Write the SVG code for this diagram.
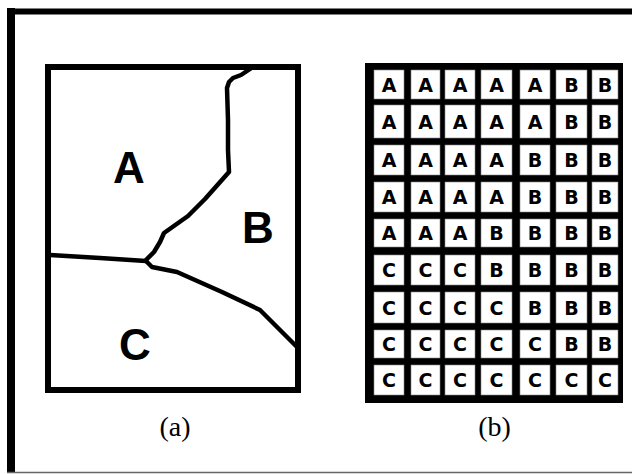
<svg xmlns="http://www.w3.org/2000/svg" width="632" height="474" viewBox="0 0 632 474">
<style>
.big{font-family:"Liberation Sans",Arial,sans-serif;font-weight:bold;font-size:44px;fill:#000;text-anchor:middle}
.cap{font-family:"Liberation Serif","Times New Roman",serif;font-size:28px;fill:#000;text-anchor:middle}
.cell{fill:#fff;stroke:#888;stroke-width:0.6}
.g{font-family:"DejaVu Sans",sans-serif;font-weight:bold;font-size:19px;fill:#000;text-anchor:middle}
.bd{fill:none;stroke:#000;stroke-width:4.5;stroke-linejoin:round;stroke-linecap:round}
</style>
<rect width="632" height="474" fill="#fff"/>
<g id="frame">
<rect x="7" y="8" width="8" height="465" fill="#000"/>
<rect x="7" y="8.5" width="625" height="6" fill="#000"/>
<line x1="7" y1="472.5" x2="632" y2="472.5" stroke="#666" stroke-width="1.5"/>
</g>
<g id="panel-a">
<rect x="48" y="67" width="250" height="323" fill="#fff" stroke="#000" stroke-width="6"/>
<g id="boundaries">
<path class="bd" d="M250,69 L241,75 L233,78 L229,82 L227,88 L228,120 L228,150 L229,172 L205,199 L188,216 L164,233 L160,242 L154,252 L146,260"/>
<path class="bd" d="M50,255 L100,258 L146,261"/>
<path class="bd" d="M146,261 L152,267 L177,272 L222,292 L260,310 L268,318 L297,347"/>
</g>
<text class="big" x="129" y="183">A</text>
<text class="big" x="258" y="243">B</text>
<text class="big" x="135" y="360">C</text>
<text class="cap" x="175" y="436">(a)</text>
</g>
<g id="panel-b">
<rect x="365" y="63" width="258" height="340" fill="#000"/>
<g id="cells">
<rect class="cell" x="374" y="70" width="30" height="29"/><rect class="cell" x="411" y="70" width="29" height="29"/><rect class="cell" x="445" y="70" width="30" height="29"/><rect class="cell" x="481" y="70" width="31" height="29"/><rect class="cell" x="520" y="70" width="30" height="29"/><rect class="cell" x="556" y="70" width="31" height="29"/><rect class="cell" x="592" y="70" width="26" height="29"/>
<rect class="cell" x="374" y="105" width="30" height="33"/><rect class="cell" x="411" y="105" width="29" height="33"/><rect class="cell" x="445" y="105" width="30" height="33"/><rect class="cell" x="481" y="105" width="31" height="33"/><rect class="cell" x="520" y="105" width="30" height="33"/><rect class="cell" x="556" y="105" width="31" height="33"/><rect class="cell" x="592" y="105" width="26" height="33"/>
<rect class="cell" x="374" y="145" width="30" height="30"/><rect class="cell" x="411" y="145" width="29" height="30"/><rect class="cell" x="445" y="145" width="30" height="30"/><rect class="cell" x="481" y="145" width="31" height="30"/><rect class="cell" x="520" y="145" width="30" height="30"/><rect class="cell" x="556" y="145" width="31" height="30"/><rect class="cell" x="592" y="145" width="26" height="30"/>
<rect class="cell" x="374" y="182" width="30" height="30"/><rect class="cell" x="411" y="182" width="29" height="30"/><rect class="cell" x="445" y="182" width="30" height="30"/><rect class="cell" x="481" y="182" width="31" height="30"/><rect class="cell" x="520" y="182" width="30" height="30"/><rect class="cell" x="556" y="182" width="31" height="30"/><rect class="cell" x="592" y="182" width="26" height="30"/>
<rect class="cell" x="374" y="219" width="30" height="28"/><rect class="cell" x="411" y="219" width="29" height="28"/><rect class="cell" x="445" y="219" width="30" height="28"/><rect class="cell" x="481" y="219" width="31" height="28"/><rect class="cell" x="520" y="219" width="30" height="28"/><rect class="cell" x="556" y="219" width="31" height="28"/><rect class="cell" x="592" y="219" width="26" height="28"/>
<rect class="cell" x="374" y="255" width="30" height="30"/><rect class="cell" x="411" y="255" width="29" height="30"/><rect class="cell" x="445" y="255" width="30" height="30"/><rect class="cell" x="481" y="255" width="31" height="30"/><rect class="cell" x="520" y="255" width="30" height="30"/><rect class="cell" x="556" y="255" width="31" height="30"/><rect class="cell" x="592" y="255" width="26" height="30"/>
<rect class="cell" x="374" y="292" width="30" height="31"/><rect class="cell" x="411" y="292" width="29" height="31"/><rect class="cell" x="445" y="292" width="30" height="31"/><rect class="cell" x="481" y="292" width="31" height="31"/><rect class="cell" x="520" y="292" width="30" height="31"/><rect class="cell" x="556" y="292" width="31" height="31"/><rect class="cell" x="592" y="292" width="26" height="31"/>
<rect class="cell" x="374" y="330" width="30" height="28"/><rect class="cell" x="411" y="330" width="29" height="28"/><rect class="cell" x="445" y="330" width="30" height="28"/><rect class="cell" x="481" y="330" width="31" height="28"/><rect class="cell" x="520" y="330" width="30" height="28"/><rect class="cell" x="556" y="330" width="31" height="28"/><rect class="cell" x="592" y="330" width="26" height="28"/>
<rect class="cell" x="374" y="365" width="30" height="30"/><rect class="cell" x="411" y="365" width="29" height="30"/><rect class="cell" x="445" y="365" width="30" height="30"/><rect class="cell" x="481" y="365" width="31" height="30"/><rect class="cell" x="520" y="365" width="30" height="30"/><rect class="cell" x="556" y="365" width="31" height="30"/><rect class="cell" x="592" y="365" width="26" height="30"/>
</g>
<g id="cell-labels">
<text class="g" x="389" y="91.5">A</text><text class="g" x="425.5" y="91.5">A</text><text class="g" x="460" y="91.5">A</text><text class="g" x="496.5" y="91.5">A</text><text class="g" x="535" y="91.5">A</text><text class="g" x="571.5" y="91.5">B</text><text class="g" x="605" y="91.5">B</text>
<text class="g" x="389" y="128.5">A</text><text class="g" x="425.5" y="128.5">A</text><text class="g" x="460" y="128.5">A</text><text class="g" x="496.5" y="128.5">A</text><text class="g" x="535" y="128.5">A</text><text class="g" x="571.5" y="128.5">B</text><text class="g" x="605" y="128.5">B</text>
<text class="g" x="389" y="167">A</text><text class="g" x="425.5" y="167">A</text><text class="g" x="460" y="167">A</text><text class="g" x="496.5" y="167">A</text><text class="g" x="535" y="167">B</text><text class="g" x="571.5" y="167">B</text><text class="g" x="605" y="167">B</text>
<text class="g" x="389" y="204">A</text><text class="g" x="425.5" y="204">A</text><text class="g" x="460" y="204">A</text><text class="g" x="496.5" y="204">A</text><text class="g" x="535" y="204">B</text><text class="g" x="571.5" y="204">B</text><text class="g" x="605" y="204">B</text>
<text class="g" x="389" y="240">A</text><text class="g" x="425.5" y="240">A</text><text class="g" x="460" y="240">A</text><text class="g" x="496.5" y="240">B</text><text class="g" x="535" y="240">B</text><text class="g" x="571.5" y="240">B</text><text class="g" x="605" y="240">B</text>
<text class="g" x="389" y="277">C</text><text class="g" x="425.5" y="277">C</text><text class="g" x="460" y="277">C</text><text class="g" x="496.5" y="277">B</text><text class="g" x="535" y="277">B</text><text class="g" x="571.5" y="277">B</text><text class="g" x="605" y="277">B</text>
<text class="g" x="389" y="315">C</text><text class="g" x="425.5" y="315">C</text><text class="g" x="460" y="315">C</text><text class="g" x="496.5" y="315">C</text><text class="g" x="535" y="315">B</text><text class="g" x="571.5" y="315">B</text><text class="g" x="605" y="315">B</text>
<text class="g" x="389" y="351">C</text><text class="g" x="425.5" y="351">C</text><text class="g" x="460" y="351">C</text><text class="g" x="496.5" y="351">C</text><text class="g" x="535" y="351">C</text><text class="g" x="571.5" y="351">B</text><text class="g" x="605" y="351">B</text>
<text class="g" x="389" y="387">C</text><text class="g" x="425.5" y="387">C</text><text class="g" x="460" y="387">C</text><text class="g" x="496.5" y="387">C</text><text class="g" x="535" y="387">C</text><text class="g" x="571.5" y="387">C</text><text class="g" x="605" y="387">C</text>
</g>
<text class="cap" x="494.5" y="436">(b)</text>
</g>
</svg>
